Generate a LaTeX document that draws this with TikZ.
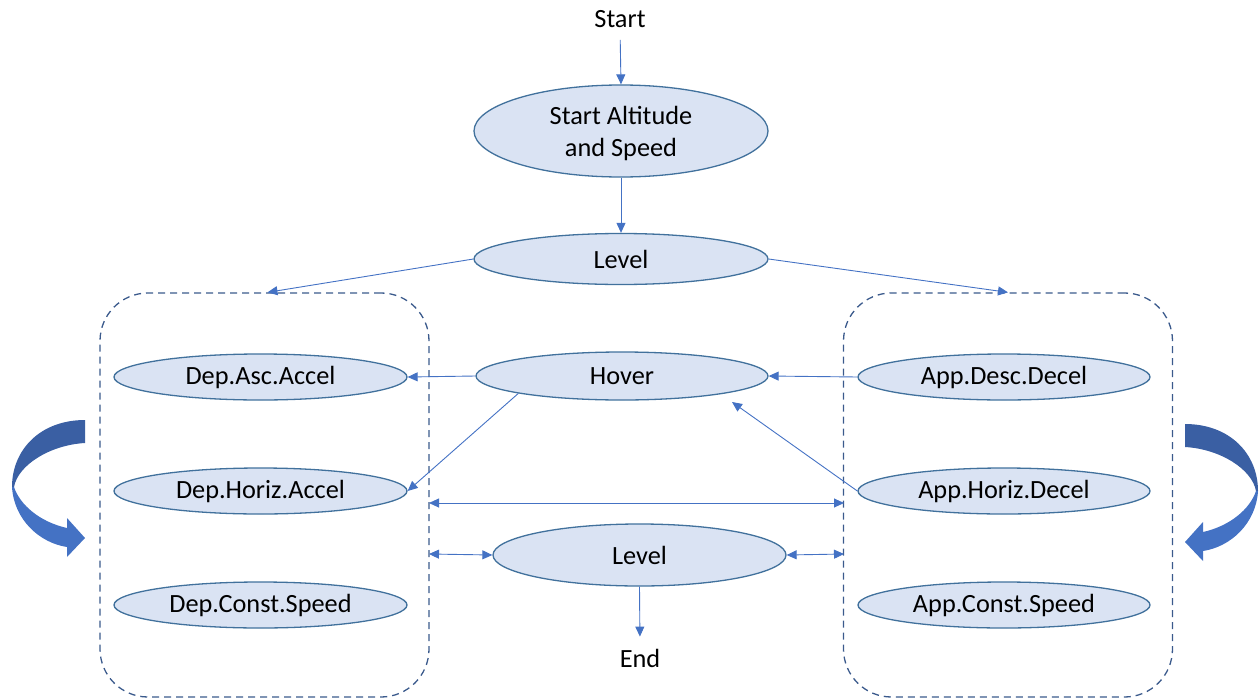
\documentclass[tikz,border=0pt]{standalone}
\usepackage{fontspec}
\setmainfont{Carlito}
\usetikzlibrary{arrows.meta,shapes.geometric,calc}
\definecolor{efill}{HTML}{DAE3F3}
\definecolor{edraw}{HTML}{41719C}
\definecolor{arrc}{HTML}{4472C4}
\definecolor{boxc}{HTML}{3B5A8C}
\definecolor{darkarr}{HTML}{3A5FA3}
\definecolor{lightarr}{HTML}{4472C4}
\begin{document}
\begin{tikzpicture}[x=1pt,y=-1pt,
  el/.style={ellipse, draw=edraw, fill=efill, line width=1.3pt, inner sep=0pt, align=center,
    font=\fontsize{26.3}{32}\selectfont},
  lbl/.style={inner sep=0pt, font=\fontsize{26.3}{32}\selectfont},
  arr/.style={draw=arrc, line width=0.9pt, -{Triangle[length=10pt,width=9pt]}},
  darr/.style={draw=arrc, line width=0.9pt, {Triangle[length=10pt,width=9pt]}-{Triangle[length=10pt,width=9pt]}},
  grp/.style={draw=boxc, dash pattern=on 7pt off 5pt, line width=1.3pt, rounded corners=48pt,
    minimum width=329pt, minimum height=404pt, inner sep=0pt}]
\useasboundingbox (0,0) rectangle (1259,699);

% group boxes
\node[grp] (lbox) at (264.5,495) {};
\node[grp] (rbox) at (1008,495) {};

% texts
\node[lbl] (start) at (620,19) {Start};
\node[lbl] (end) at (640,658) {End};

% ellipses
\node[el, minimum width=294pt, minimum height=92pt, text depth=0pt] (salt) at (621,131) {Start Altitude\\and Speed};
\node[el, minimum width=294pt, minimum height=51pt] (level1) at (621,259) {Level};
\node[el, minimum width=292pt, minimum height=48pt] (hover) at (622,376) {Hover};
\node[el, minimum width=293pt, minimum height=46pt] (dasc) at (260.5,377) {Dep.Asc.Accel};
\node[el, minimum width=293pt, minimum height=46pt] (dhoriz) at (260.5,491) {Dep.Horiz.Accel};
\node[el, minimum width=293pt, minimum height=46pt] (dconst) at (260.5,605) {Dep.Const.Speed};
\node[el, minimum width=292pt, minimum height=46pt] (adesc) at (1004,377) {App.Desc.Decel};
\node[el, minimum width=292pt, minimum height=46pt] (ahoriz) at (1004,491) {App.Horiz.Decel};
\node[el, minimum width=292pt, minimum height=46pt] (aconst) at (1004,605) {App.Const.Speed};
\node[el, minimum width=293pt, minimum height=62pt] (level2) at (639.5,555) {Level};

% connectors
\coordinate (la) at (429,503);
\coordinate (ra) at (844,503);
\coordinate (lb) at (429,554);
\coordinate (rb) at (844,554);
\coordinate (hv) at ($(hover.center)+(110,26)$);

\draw[arr, shorten <=12pt] (start.south) -- (salt.north);
\draw[arr] (salt.south) -- (level1.north);
\draw[arr] (level1.west) -- ([xshift=3pt]lbox.north);
\draw[arr] (level1.east) -- (rbox.north);
\draw[arr] (hover.west) -- (dasc.east);
\draw[arr] (hover.south west) -- (dhoriz.east);
\draw[arr] (adesc.west) -- (hover.east);
\draw[arr] (ahoriz.west) -- (hv);
\draw[darr] (la) -- (ra);
\draw[darr] (lb) -- (level2.west);
\draw[darr] (level2.east) -- (rb);
\draw[arr, shorten >=12pt] (level2.south) -- (end.north);

% curved block arrows
\newcommand{\curvedarrow}{%
  \fill[darkarr] (85,420) .. controls (40,420) and (12,450) .. (12,487)
    -- (14,487) .. controls (18,465) and (50,445) .. (85,443) -- cycle;
  \fill[lightarr] (12,487) .. controls (14,520) and (40,543) .. (67,547)
    -- (67,557) -- (85,538) -- (67,518) -- (67,528)
    .. controls (40,522) and (20,505) .. (14,487) -- cycle;
}
\curvedarrow
\begin{scope}[xshift=1270pt, xscale=-1, yshift=-4pt]
\curvedarrow
\end{scope}
\end{tikzpicture}
\end{document}
